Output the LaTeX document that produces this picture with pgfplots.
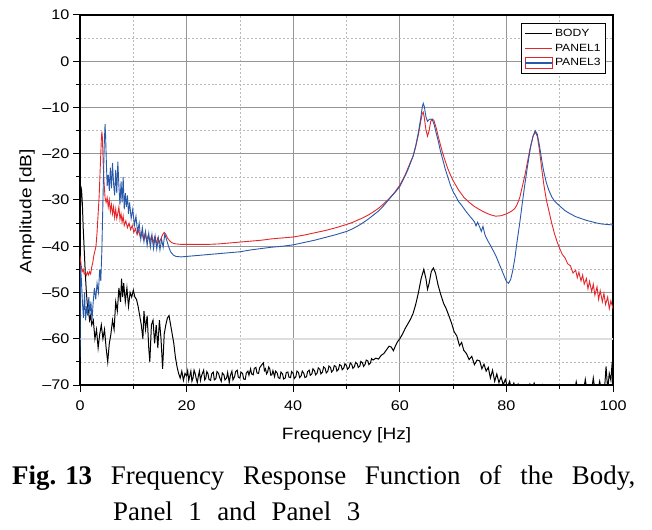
\documentclass[border=0pt]{standalone}
\usepackage{fontspec}
\setmainfont{Liberation Sans}[FakeStretch=1.16]
\newfontfamily\capfont{Liberation Serif}
\usepackage{pgfplots}
\pgfplotsset{compat=1.18}
\definecolor{pred}{RGB}{228,38,42}
\definecolor{pblue}{RGB}{40,88,168}
\definecolor{majgrid}{RGB}{150,150,150}
\definecolor{mingrid}{RGB}{185,185,185}
\pgfplotsset{p3legend/.style={legend image code/.code={\draw[pred, line width=0.6pt] (0bp,-5.5bp) rectangle (27bp,5.5bp); \draw[pblue, line width=1.6pt] (0bp,0bp) -- (27bp,0bp);}}}
\begin{document}
\begin{tikzpicture}
\useasboundingbox (0,0) rectangle (652bp,530bp);
\begin{axis}[
  at={(80bp,145bp)}, anchor=south west,
  width=533bp, height=370bp, scale only axis,
  xmin=0, xmax=100, ymin=-70, ymax=10,
  xtick={0,20,...,100}, ytick={-70,-60,...,10},
  yticklabels={\textendash70,\textendash60,\textendash50,\textendash40,\textendash30,\textendash20,\textendash10,0,10},
  minor xtick={10,30,...,90}, minor ytick={-65,-55,...,5},
  grid=both,
  major grid style={majgrid, line width=0.8pt},
  minor grid style={mingrid, line width=0.6pt, dash pattern=on 2pt off 2pt},
  extra y ticks={-60}, extra y tick labels={},
  extra y tick style={major grid style={black!13, line width=2pt}},
  axis line style={line width=1.1pt},
  tick align=outside, xtick pos=bottom, ytick pos=left,
  major tick length=7bp, minor tick length=4bp,
  tick style={black, line width=1pt},
  ticklabel style={font=\fontsize{14}{15}\selectfont},
  xticklabel style={yshift=-5bp},
  /pgf/number format/assume math mode=true,
  xlabel={Frequency [Hz]}, ylabel={Amplitude [dB]},
  label style={font=\fontsize{16.5}{18}\selectfont},
  xlabel style={at={(axis description cs:0.5,-0.1486)}, anchor=base},
  ylabel style={at={(axis description cs:-0.0994,0.47)}, anchor=center},
  legend style={at={(axis description cs:0.987,0.979)}, anchor=north east,
    draw=black, line width=0.8pt, font=\fontsize{10.5}{11}\selectfont,
    inner xsep=3bp, inner ysep=4bp, row sep=2bp, fill=white},
  legend cell align=left,
  legend image code/.code={\draw[#1] (0bp,0bp) -- (27bp,0bp);},
]
% BODY
\addplot[black, line width=1pt] coordinates {
(0,-38) (0.15,-27) (0.3,-28) (0.45,-31) (0.6,-36) (0.8,-41) (1.0,-46) (1.2,-50) (1.4,-53) (1.6,-54)
(1.8,-56) (2.0,-55) (2.2,-57) (2.5,-56) (2.8,-60) (3.1,-58) (3.4,-62) (3.7,-59) (4.0,-57) (4.3,-60)
(4.6,-58) (4.9,-62) (5.2,-65) (5.5,-61) (5.8,-59) (6.1,-56) (6.4,-58) (6.7,-52) (7.0,-54) (7.3,-49)
(7.6,-52) (7.8,-47) (8.0,-51) (8.2,-48) (8.5,-52) (8.8,-49) (9.1,-53) (9.4,-50) (9.7,-51) (10.0,-49.5)
(10.3,-51) (10.6,-51.5) (10.9,-53) (11.2,-55) (11.5,-57) (11.8,-60) (12.0,-54) (12.3,-58) (12.6,-55) (12.9,-62)
(13.1,-65) (13.4,-57) (13.7,-56) (14.0,-61) (14.3,-57) (14.6,-62) (14.9,-56) (15.2,-60) (15.5,-66.5) (15.8,-59)
(16.1,-57) (16.4,-55.5) (16.7,-55) (17.0,-57) (17.3,-59) (17.6,-61) (17.9,-64) (18.2,-66) (18.5,-67.5) (18.8,-68.5)
(19.1,-67) (19.4,-69) (19.7,-67.5) (20.0,-68) (20.2,-66.9) (20.4,-69) (20.6,-68) (20.8,-67) (21.0,-69.2) (21.2,-68.5) (21.4,-66.8) (21.6,-67.5) (21.8,-68.6) (22.0,-69.5) (22.2,-68.1) (22.4,-67)
(22.6,-69) (22.8,-68) (23.0,-67.4) (23.2,-66.8) (23.4,-68.9) (23.6,-68.5) (23.8,-67.1) (24.0,-67.5) (24.2,-68.8) (24.5,-69) (24.7,-67.6) (25.0,-67.2) (25.2,-68.9) (25.5,-68.6) (25.7,-67.1) (26.0,-67.5) (26.2,-68.4) (26.5,-69.2) (26.7,-67.4) (27.0,-67.8)
(27.2,-68.9) (27.5,-68.5) (27.7,-67.3) (28.0,-69.5) (28.2,-68) (28.5,-67) (28.7,-68.9) (29.0,-68.2) (29.2,-67.1) (29.5,-66.8) (29.7,-68.3) (30.0,-68.5) (30.2,-67.2) (30.5,-67.5) (30.7,-68.7) (31.0,-68.8) (31.2,-67.4) (31.5,-67) (31.7,-67.9) (32.0,-66.5)
(32.2,-67.6) (32.5,-67.8) (32.7,-66.4) (33.0,-66.2) (33.2,-67.4) (33.5,-67.5) (33.7,-66.3) (34.0,-65.8) (34.4,-65.2) (34.6,-66.9) (34.8,-66.5) (35.0,-67.6) (35.2,-67.2) (35.4,-66.1) (35.6,-66.5) (35.8,-67.9) (36.0,-67.8) (36.2,-66.9) (36.5,-68.2)
(36.7,-67) (37.0,-67.4) (37.2,-68.4) (37.5,-68.6) (37.7,-67.2) (38.0,-67.6) (38.2,-68.7) (38.5,-68.5) (38.7,-67.3) (39.0,-67.2) (39.2,-68.3) (39.5,-68.4) (39.7,-67.1) (40.0,-67.5) (40.2,-68.6) (40.5,-68.2) (40.7,-67) (41.0,-67.3) (41.2,-68.4) (41.5,-68)
(41.7,-67) (42.0,-67.5) (42.2,-68.4) (42.5,-68.2) (42.7,-67.1) (43.0,-66.8) (43.2,-67.9) (43.5,-67.6) (43.7,-66.5) (44.0,-66.9) (44.2,-67.8) (44.5,-67.4) (44.7,-66.3) (45.0,-66.6) (45.2,-67.6) (45.5,-67.2) (45.7,-66.1) (46.0,-66.4) (46.2,-67.4) (46.5,-67)
(46.7,-65.9) (47.0,-66.2) (47.2,-67.2) (47.5,-66.8) (47.7,-65.8) (48.0,-66) (48.2,-67) (48.5,-66.6) (48.7,-65.6) (49.0,-65.8) (49.2,-66.7) (49.5,-66.3) (49.7,-65.4) (50.0,-65.8) (50.2,-66.6) (50.5,-66.2) (50.7,-65.2) (51.0,-65.6) (51.2,-66.4) (51.5,-66)
(51.7,-65.1) (52.0,-65.4) (52.2,-66.2) (52.5,-65.9) (52.7,-64.9) (53.0,-65.2) (53.2,-66) (53.5,-65.5) (53.7,-64.6) (54.0,-64.8) (54.2,-65.6) (54.5,-65.2) (54.7,-64.3) (55.0,-64.6) (55.5,-64.2) (56.0,-64.4) (56.5,-63.6)
(57.0,-63.2) (57.5,-62.4) (58.0,-61.6) (58.4,-61.8) (58.8,-62.6) (59.2,-61.5) (59.6,-60.6) (60.0,-60) (60.5,-59) (61.0,-57.8)
(61.5,-56.8) (62.0,-55.8) (62.5,-54.5) (63.0,-52.5) (63.5,-50) (64.0,-47) (64.5,-45) (64.9,-47) (65.2,-49.3) (65.5,-48)
(65.9,-45.5) (66.3,-44.7) (66.7,-45.8) (67.2,-48.5) (67.7,-50.5) (68.2,-52.3) (68.7,-53.5) (69.2,-55) (69.7,-56.6) (70.2,-58.5)
(70.7,-59.4) (71.2,-61.5) (71.6,-60.8) (72.0,-62.5) (72.5,-63.2) (73.0,-64.5) (73.5,-63.8) (74.0,-65.6) (74.5,-64.6) (75.0,-64.8)
(75.4,-66.5) (75.8,-65.5) (76.2,-67) (76.6,-66.2) (77.0,-68.5) (77.4,-66.8) (77.8,-69.2) (78.2,-67.6) (78.6,-69.5) (79.0,-68.2)
(79.4,-70) (79.8,-68.8) (80.2,-70.5) (80.6,-69.2) (81.0,-71) (81.4,-69.6) (81.8,-71) (82.2,-69.8) (82.6,-71) (83.0,-70.8)
(83.5,-71) (84.0,-71) (84.4,-69.8) (84.8,-71) (85.2,-69.6) (85.6,-71) (86.5,-71) (86.8,-70) (87.1,-71) (88,-71)
(90,-71) (91,-71) (92.8,-71) (93.1,-69.3) (93.4,-71) (94.5,-71) (94.8,-68.8) (95.1,-71) (96.0,-71) (96.3,-68.5)
(96.6,-71) (97.2,-71) (97.5,-69.2) (97.8,-71) (98.4,-71) (98.7,-66) (99.0,-71) (99.3,-67.5) (99.6,-69) (99.8,-65.8) (100,-67)
};
\addlegendentry{BODY}
% PANEL1
\addplot[pred, line width=0.9pt] coordinates {
(0,-42) (0.2,-44) (0.4,-45.5) (0.6,-45) (0.8,-46) (1.0,-45.8) (1.2,-46.3) (1.4,-45.6) (1.6,-46.2) (1.8,-45.5)
(2.0,-46) (2.2,-44.5) (2.4,-43.5) (2.6,-42) (2.8,-41) (3.0,-40) (3.2,-37) (3.4,-33) (3.6,-29) (3.8,-23)
(4.0,-17) (4.1,-15.2) (4.2,-16.5) (4.35,-22) (4.5,-26) (4.7,-29.5) (4.9,-30.5) (5.1,-29.5) (5.3,-31.5) (5.5,-30)
(5.7,-32.5) (5.9,-31) (6.1,-33) (6.3,-31.5) (6.5,-33.8) (6.7,-32) (6.9,-34) (7.1,-32.8) (7.3,-31.5) (7.5,-34.2)
(7.7,-33) (7.9,-34.8) (8.1,-33.5) (8.3,-35.5) (8.6,-34.5) (8.9,-36) (9.2,-35) (9.5,-36.4) (9.8,-35.5) (10.1,-37)
(10.4,-36.2) (10.7,-37.5) (11.0,-36.5) (11.3,-38) (11.6,-37) (11.9,-38.5) (12.2,-37.3) (12.5,-38.8) (12.8,-37.6) (13.1,-39)
(13.4,-37.8) (13.7,-39.2) (14.0,-38) (14.3,-39.3) (14.6,-38.2) (14.9,-39.2) (15.2,-38.3) (15.5,-37.5) (15.8,-37) (16.1,-37.4)
(16.4,-38.2) (16.8,-38.8) (17.2,-39.2) (17.6,-39.4) (18.0,-39.5) (19,-39.6) (20,-39.6) (22,-39.6) (24,-39.6) (26,-39.5)
(28,-39.3) (30,-39.1) (32,-38.9) (34,-38.7) (36,-38.4) (38,-38.2) (40,-38) (42,-37.6) (44,-37.1) (46,-36.6)
(48,-36) (50,-35.3) (51,-34.9) (52,-34.4) (53,-33.9) (54,-33.3) (55,-32.6) (56,-31.8) (57,-30.8) (58,-29.7)
(59,-28.4) (60,-26.8) (61,-24.6) (61.5,-23.2) (62,-21.8) (62.5,-20.5) (63,-18.4) (63.5,-15.8) (63.9,-13.2) (64.2,-11.4)
(64.4,-11) (64.6,-12.2) (64.9,-14.8) (65.2,-16.2) (65.5,-15) (65.8,-13) (66.1,-12.5) (66.4,-12.8) (66.8,-14.3) (67.2,-16.2)
(67.6,-18) (68,-19.7) (68.5,-21.5) (69,-23.2) (69.5,-24.6) (70,-25.8) (71,-27.8) (72,-29.4) (73,-30.5) (74,-31.4)
(75,-32.1) (76,-32.7) (77,-33.2) (78,-33.5) (79,-33.4) (80,-33) (81,-32.4) (81.6,-31.8) (82,-31) (82.5,-29.5)
(83,-27) (83.5,-24.5) (84,-21.5) (84.5,-18.5) (85,-16.2) (85.4,-15.3) (85.8,-16.2) (86.2,-19.2) (86.6,-23) (87,-26.5)
(87.5,-30) (88,-32.5) (88.5,-35) (89,-37.2) (89.5,-39) (90,-40.5) (90.5,-41.8) (91,-42.5) (91.5,-43.8) (92,-44.2)
(92.5,-45.8) (93,-45.2) (93.3,-46.8) (93.6,-45.6) (94,-47.5) (94.3,-46.2) (94.6,-48.2) (95,-47) (95.3,-49.2) (95.6,-47.6)
(96,-49.8) (96.3,-48.2) (96.6,-50.6) (97,-48.8) (97.3,-51.5) (97.6,-49.6) (98,-52) (98.3,-50.2) (98.6,-52.6) (99,-51)
(99.3,-53.5) (99.6,-51.8) (100,-53.5)
};
\addlegendentry{PANEL1}
% PANEL3
\addplot[pblue, line width=0.9pt, p3legend] coordinates {
(0,-64) (0.08,-44) (0.25,-47) (0.45,-52) (0.65,-55.5) (0.85,-50) (1.05,-56) (1.25,-53) (1.45,-55) (1.65,-51)
(1.85,-54.5) (2.05,-52) (2.25,-56) (2.45,-52.5) (2.7,-49) (2.95,-51.5) (3.2,-48) (3.45,-50) (3.7,-45) (3.9,-47.5)
(4.1,-41) (4.25,-33) (4.4,-25) (4.55,-18) (4.7,-13.6) (4.8,-16) (4.95,-22) (5.1,-27) (5.3,-24.5) (5.5,-28)
(5.7,-23) (5.9,-27.5) (6.1,-22) (6.3,-26.5) (6.5,-29) (6.7,-23.5) (6.9,-28.5) (7.1,-21.7) (7.3,-27) (7.5,-31)
(7.7,-26) (7.9,-30.5) (8.1,-25) (8.3,-32) (8.5,-28.5) (8.7,-31.5) (8.9,-29) (9.1,-33) (9.3,-30.5) (9.6,-34)
(9.9,-32) (10.2,-35.5) (10.5,-33.5) (10.8,-37) (11.1,-35) (11.4,-38.5) (11.7,-36) (12.0,-39) (12.3,-36.8) (12.6,-39.8)
(12.9,-37.2) (13.2,-40.2) (13.5,-37.5) (13.8,-40.5) (14.1,-37.8) (14.4,-40.6) (14.7,-38.2) (15.0,-40.8) (15.3,-38.5) (15.6,-40.2)
(15.9,-37.4) (16.2,-38.4) (16.6,-40) (17.0,-41.2) (17.5,-41.9) (18.0,-42.2) (19,-42.3) (20,-42.2) (22,-42) (24,-41.8)
(26,-41.6) (28,-41.4) (30,-41.2) (32,-40.8) (34,-40.5) (36,-40.2) (38,-40) (40,-39.7) (42,-39.2) (44,-38.7)
(46,-38.1) (48,-37.5) (50,-36.8) (51,-36.3) (52,-35.7) (53,-35) (54,-34.2) (55,-33.3) (56,-32.4) (57,-31.2)
(58,-29.8) (59,-28.5) (60,-27.1) (61,-24.8) (61.5,-23.5) (62,-22) (62.5,-20.5) (63,-18.2) (63.5,-15.3) (63.9,-12.5)
(64.2,-10) (64.4,-9.1) (64.6,-9.8) (64.9,-12) (65.2,-13) (65.5,-12.6) (65.8,-12.5) (66.1,-12.7) (66.4,-13.5) (66.8,-15.4)
(67.2,-17.2) (67.6,-19.3) (68,-21) (68.5,-23.2) (69,-25) (69.5,-26.8) (70,-28.2) (70.5,-29.2) (71,-30.3) (71.5,-31)
(72,-31.8) (72.5,-32.6) (73,-33.3) (73.5,-34) (74,-34.7) (74.3,-35.6) (74.6,-34.8) (75,-35.9) (75.3,-36.8) (75.6,-35.7)
(76,-37.6) (76.5,-38.8) (77,-39.8) (77.5,-40.9) (78,-42) (78.5,-43.4) (79,-44.8) (79.5,-46.2) (80,-47.6) (80.4,-48)
(80.8,-47.2) (81.2,-45.2) (81.6,-42.5) (82,-39) (82.5,-35) (83,-30.5) (83.5,-26.3) (84,-22.4) (84.5,-18.8) (85,-16.2)
(85.4,-15) (85.8,-15.8) (86.2,-18.2) (86.6,-21.2) (87,-23.8) (87.5,-26.3) (88,-28) (88.5,-29.3) (89,-30.2) (90,-31.3)
(91,-32.3) (92,-33) (93,-33.6) (94,-34) (95,-34.4) (96,-34.7) (97,-35) (98,-35.2) (99,-35.3) (100,-35.4)
};
\addlegendentry{PANEL3}
\end{axis}
\node[anchor=base west, inner sep=0pt, font=\capfont\fontsize{27}{30}\selectfont] at (12bp,45bp)
  {\hbox to 623bp{\textbf{Fig.}\kern9bp\textbf{13}\hfil Frequency\hfil Response\hfil Function\hfil of\hfil the\hfil Body,}};
\node[anchor=base west, inner sep=0pt, font=\capfont\fontsize{27}{30}\selectfont] at (113bp,10bp)
  {\hbox to 247bp{Panel\hfil 1\hfil and\hfil Panel\hfil 3}};
\end{tikzpicture}
\end{document}
